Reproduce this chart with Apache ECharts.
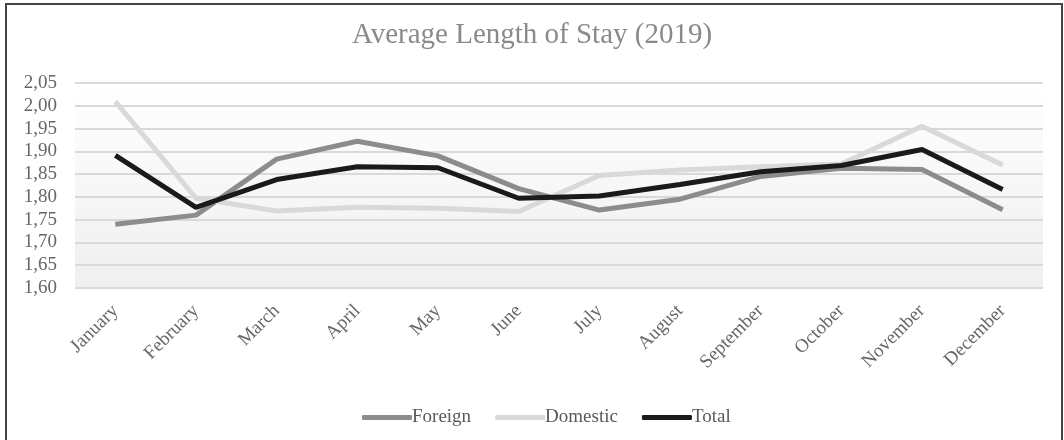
<!DOCTYPE html>
<html>
<head>
<meta charset="utf-8">
<script src="https://cdn.jsdelivr.net/npm/echarts@6/dist/echarts.min.js"></script>
<style>
html, body {margin: 0; padding: 0; background: #fff;}
#main {width: 1064px; height: 440px;}
</style>
</head>
<body>
<div id="main"></div>
<script>
/* data */
let months = ['January', 'February', 'March', 'April', 'May', 'June', 'July', 'August', 'September', 'October', 'November', 'December'];
let foreign = [1.74, 1.76, 1.883, 1.922, 1.890, 1.818, 1.771, 1.795, 1.845, 1.863, 1.860, 1.772];
let domestic = [2.009, 1.797, 1.769, 1.777, 1.775, 1.768, 1.847, 1.859, 1.866, 1.872, 1.955, 1.870];
let total = [1.891, 1.777, 1.838, 1.866, 1.864, 1.797, 1.802, 1.827, 1.855, 1.869, 1.904, 1.816];

let serif = "'Liberation Serif', 'DejaVu Serif', serif";

var myChart = echarts.init(document.getElementById('main'));
option = {
  animation: false,
  title: {
    text: 'Average Length of Stay (2019)',
    left: 'center',
    top: 16,
    textStyle: {fontFamily: serif, fontSize: 29, fontWeight: 'normal', color: '#8a8a8a'}
  },
  // рамка вокруг графика
  graphic: [{
    type: 'rect',
    shape: {x: 6, y: 4, width: 1056, height: 450},
    style: {fill: 'none', stroke: '#444', lineWidth: 2}
  }],
  legend: {
    top: 403,
    left: 357,
    icon: 'roundRect',
    itemWidth: 50,
    itemHeight: 5,
    itemGap: 24,
    textStyle: {fontFamily: serif, fontSize: 19, color: '#595959', padding: [0, 0, 0, -5]},
    data: ['Foreign', 'Domestic', 'Total']
  },
  grid: {
    left: 75, right: 21, top: 83, bottom: 152,
    show: true,
    borderWidth: 0,
    backgroundColor: new echarts.graphic.LinearGradient(0, 0, 0, 1, [
      {offset: 0, color: '#ffffff'},
      {offset: 1, color: '#efefef'}
    ])
  },
  xAxis: {
    type: 'category',
    data: months,
    boundaryGap: true,
    axisLine: {show: false},
    axisTick: {show: false},
    axisLabel: {rotate: 45, margin: 20, fontFamily: serif, fontSize: 19, color: '#666'}
  },
  yAxis: {
    type: 'value',
    min: 1.60, max: 2.05, interval: 0.05,
    axisLine: {show: false},
    axisTick: {show: false},
    splitLine: {lineStyle: {color: '#d9d9d9', width: 2}},
    axisLabel: {
      margin: 18, fontFamily: serif, fontSize: 19, color: '#666',
      formatter: function (v) { return v.toFixed(2).replace('.', ','); }
    }
  },
  series: [
    {name: 'Foreign', type: 'line', data: foreign, symbol: 'none', color: '#8c8c8c', lineStyle: {width: 5, color: '#8c8c8c'}},
    {name: 'Domestic', type: 'line', data: domestic, symbol: 'none', color: '#d9d9d9', lineStyle: {width: 5, color: '#d9d9d9'}},
    {name: 'Total', type: 'line', data: total, symbol: 'none', color: '#1a1a1a', lineStyle: {width: 5, color: '#1a1a1a'}}
  ]
};
myChart.setOption(option);
</script>
</body>
</html>
